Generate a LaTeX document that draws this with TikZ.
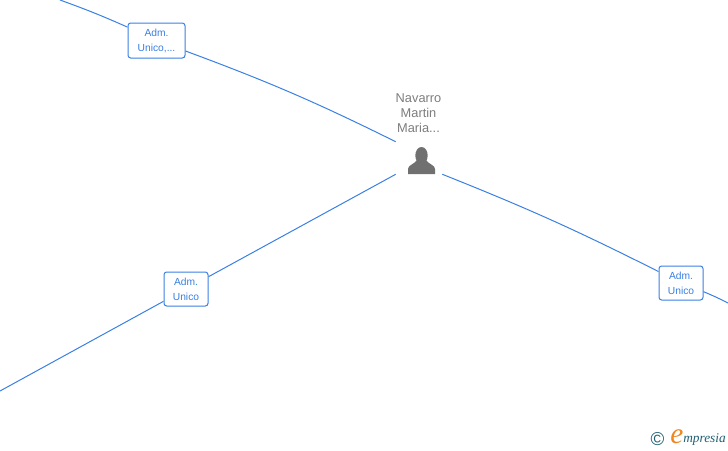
\documentclass[tikz,border=0pt]{standalone}
\usepackage{fontspec}
\setmainfont{Liberation Sans}
\newfontfamily\logofont{Liberation Serif}
\usetikzlibrary{
    positioning
}
\definecolor{linkblue}{RGB}{58,128,226}
\definecolor{labelgrey}{RGB}{125,125,125}
\definecolor{icongrey}{RGB}{112,112,112}
\definecolor{logoteal}{RGB}{30,95,115}
\definecolor{logoorange}{RGB}{240,135,30}
\tikzset{
    line cap=round,
    line join=round,
    rolebox/.style={
        rectangle,
        draw=linkblue,
        rounded corners=2pt,
        line width=0.75pt,
        fill=white,
        text=linkblue,
        align=center,
        font=\fontsize{7.7}{11.2}\selectfont,
        inner sep=0pt
    },
    link/.style={
        draw=linkblue,
        line width=0.75pt
    },
    personname/.style={
        text=labelgrey,
        align=center,
        font=\fontsize{9.6}{11.2}\selectfont,
        inner sep=0pt
    },
    personspot/.style={
        rectangle,
        inner sep=0pt,
        minimum width=34.5pt,
        minimum height=24pt
    }
}

\begin{document}
\begin{tikzpicture}[x=0.75pt, y=-0.75pt]
\useasboundingbox (0, 0) rectangle (728, 450);

\node[personspot] (person) at (419, 158) {};
\node[personname] (name) at (418.5, 113) {Navarro\\Martin\\Maria...};

% person icon
\fill[icongrey] (421.5, 155.5) ellipse (6.2 and 8.5);
\fill[icongrey] (408, 174) -- (408, 169) .. controls (408, 165) and (414, 164.5) .. (417, 160)
    -- (426, 160) .. controls (429, 164.5) and (435, 165) .. (435, 169) -- (435, 174) -- cycle;

\coordinate (topend) at (60, 0);
\coordinate (leftend) at (0, 391);
\coordinate (rightend) at (728, 303);

\node[rolebox, minimum width=42.75pt, minimum height=26.25pt] (admtop) at (156.5, 40.5) {Adm.\\Unico,...};
\node[rolebox, minimum width=33pt, minimum height=25.5pt] (admleft) at (186, 289) {Adm.\\Unico};
\node[rolebox, minimum width=33pt, minimum height=25.5pt] (admright) at (681, 283) {Adm.\\Unico};

\draw[link] (topend) to[bend left=2] (admtop);
\draw[link] (admtop) to[bend left=3] (person.north west);
\draw[link] (person.south west) -- (admleft);
\draw[link] (admleft) -- (leftend);
\draw[link] (person.south east) to[bend left=2.5] (admright);
\draw[link] (admright) to[bend left=2] (rightend);

% logo
\node[text=logoteal, font=\fontsize{14}{14}\selectfont, inner sep=0pt] (copysign) at (657.5, 439) {©};
\node[text=logoorange, font=\logofont\itshape\fontsize{22}{22}\selectfont, inner sep=0pt] (logoe) at (677, 436.5) {e};
\node[text=logoteal, font=\logofont\itshape\fontsize{10}{10}\selectfont, inner sep=0pt, anchor=west] (logotext) at (683, 439.5) {mpresia};

\end{tikzpicture}
\end{document}
